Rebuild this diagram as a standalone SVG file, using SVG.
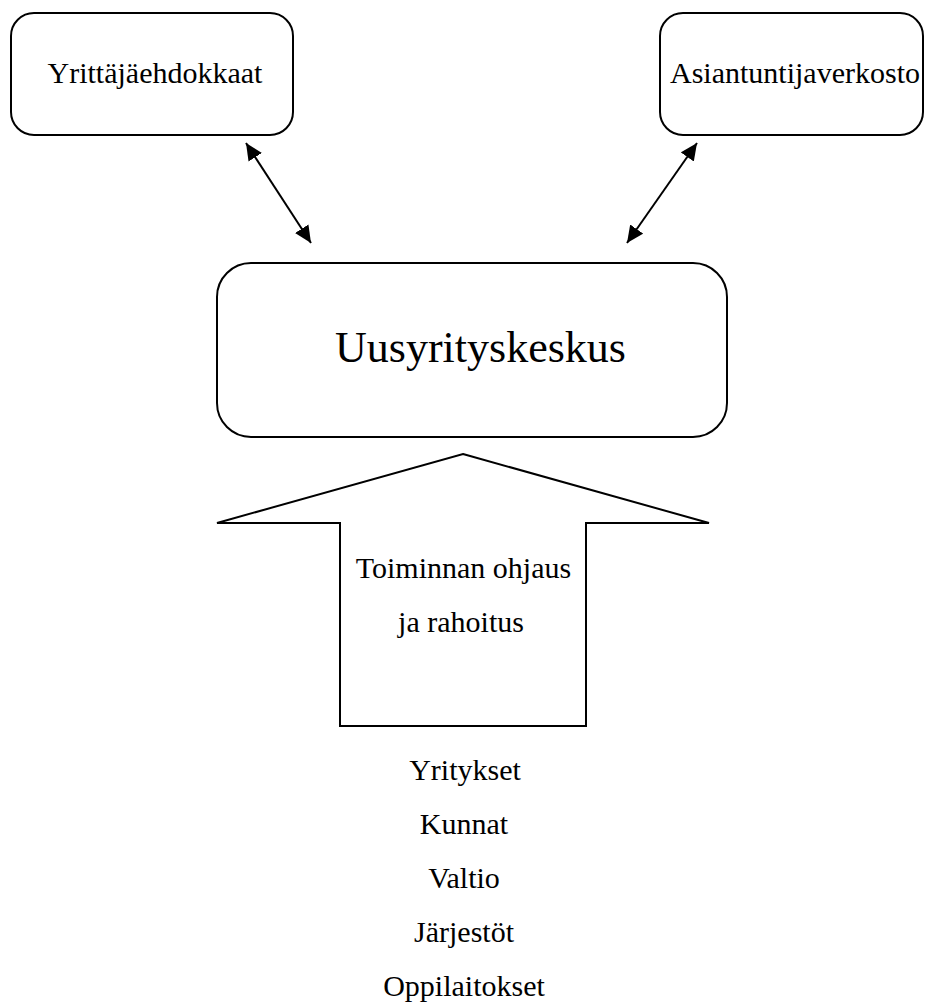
<svg xmlns="http://www.w3.org/2000/svg" width="929" height="1003" viewBox="0 0 929 1003">
<style>
  .box { fill: #ffffff; stroke: #000000; stroke-width: 2; }
  .lbl { font-family: "Liberation Serif", "Times New Roman", serif; fill: #000000; text-anchor: middle; }
  .conn { stroke: #000000; stroke-width: 2; fill: none; marker-start: url(#ah); marker-end: url(#ah); }
</style>
<defs>
  <marker id="ah" markerUnits="userSpaceOnUse" markerWidth="18" markerHeight="16" refX="17" refY="8" orient="auto-start-reverse" viewBox="0 0 18 16">
    <path d="M0,0 L17,8 L0,16 Z" fill="#000000"/>
  </marker>
</defs>
<rect width="929" height="1003" fill="#ffffff"/>
<g id="node-yrittajaehdokkaat">
  <rect class="box" x="11" y="13" width="282" height="122" rx="23" ry="23"/>
  <text class="lbl" x="155" y="83" font-size="30">Yrittäjäehdokkaat</text>
</g>
<g id="node-asiantuntijaverkosto">
  <rect class="box" x="660" y="13" width="263" height="122" rx="23" ry="23"/>
  <text class="lbl" x="795" y="83" font-size="30">Asiantuntijaverkosto</text>
</g>
<g id="node-uusyrityskeskus">
  <rect class="box" x="217" y="263" width="510" height="174" rx="34" ry="34"/>
  <text class="lbl" x="480.5" y="362" font-size="44">Uusyrityskeskus</text>
</g>
<g id="node-ohjaus-arrow">
  <polygon class="box" points="463,454 709,523 586,523 586,726 340,726 340,523 217,523"/>
  <text class="lbl" x="463.5" y="578" font-size="30">Toiminnan ohjaus</text>
  <text class="lbl" x="461" y="632" font-size="30">ja rahoitus</text>
</g>
<g id="node-sources">
  <text class="lbl" x="465" y="780" font-size="30">Yritykset</text>
  <text class="lbl" x="464" y="834" font-size="30">Kunnat</text>
  <text class="lbl" x="464" y="888" font-size="30">Valtio</text>
  <text class="lbl" x="464" y="942" font-size="30">Järjestöt</text>
  <text class="lbl" x="464" y="996" font-size="30">Oppilaitokset</text>
</g>
<g id="connectors">
  <line class="conn" x1="246" y1="143" x2="311" y2="243"/>
  <line class="conn" x1="697" y1="143" x2="627" y2="243"/>
</g>
</svg>
